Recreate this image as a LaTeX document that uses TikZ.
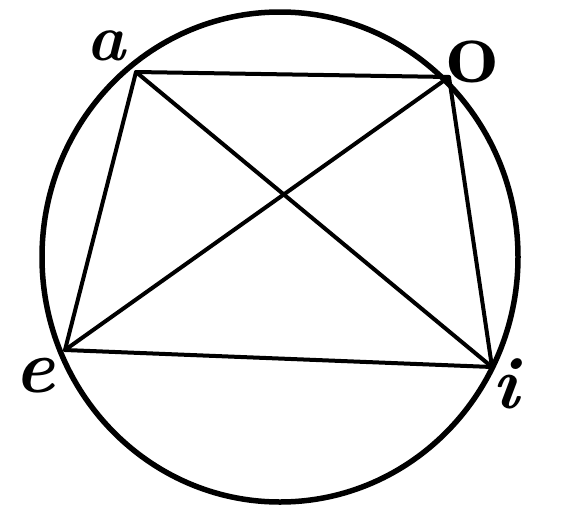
\documentclass[tikz,border=0pt]{standalone}
\begin{document}
\begin{tikzpicture}[x=1pt,y=-1pt,
  rim/.style={line width=5.5pt},
  chord/.style={line width=4pt,line join=round,line cap=round},
  lbl/.style={inner sep=0pt,font=\bfseries}]
\useasboundingbox (0,0) rectangle (565,517);
\coordinate (a) at (136,72);
\coordinate (o) at (449,77);
\coordinate (i) at (492,367);
\coordinate (e) at (65,350);
\draw[rim] (280,257) ellipse [x radius=238pt, y radius=245pt];
\draw[chord] (a) -- (o) -- (i) -- (e) -- cycle;
\draw[chord] (a) -- (i);
\draw[chord] (o) -- (e);
\node[lbl] (la) at (106,46) {\fontsize{66}{66}\selectfont\itshape a};
\node[lbl] (lo) at (472,62) {\fontsize{92}{92}\selectfont o};
\node[lbl] (le) at (35,376) {\fontsize{76}{76}\selectfont\itshape e};
\node[lbl] (li) at (506,384) {\fontsize{74}{74}\selectfont\itshape i};
\end{tikzpicture}
\end{document}
